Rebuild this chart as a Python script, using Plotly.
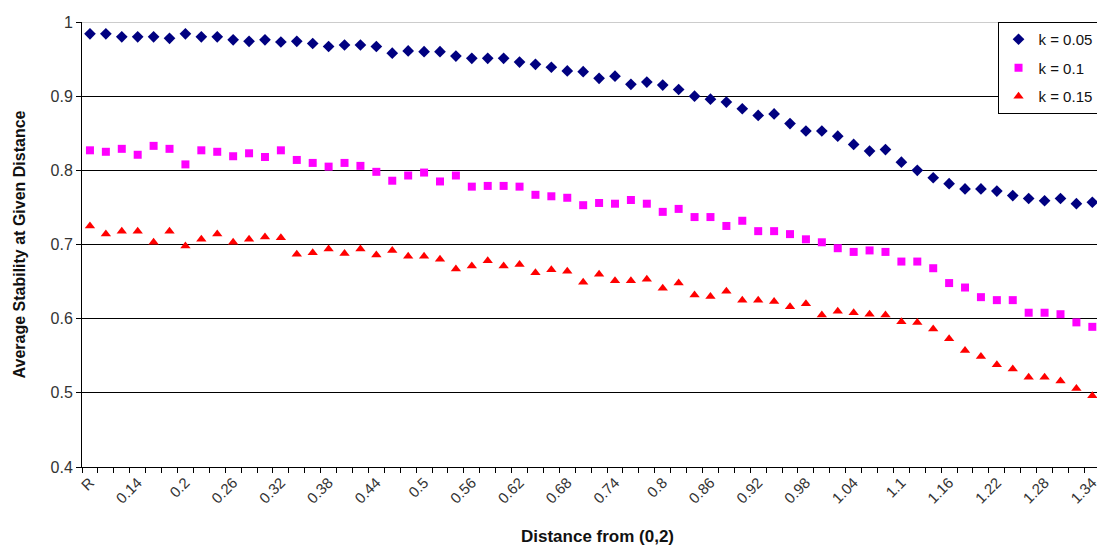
import plotly.graph_objects as go

distances = ["R", "0.1", "0.12", "0.14", "0.16", "0.18", "0.2", "0.22", "0.24", "0.26",
             "0.28", "0.3", "0.32", "0.34", "0.36", "0.38", "0.4", "0.42", "0.44", "0.46",
             "0.48", "0.5", "0.52", "0.54", "0.56", "0.58", "0.6", "0.62", "0.64", "0.66",
             "0.68", "0.7", "0.72", "0.74", "0.76", "0.78", "0.8", "0.82", "0.84", "0.86",
             "0.88", "0.9", "0.92", "0.94", "0.96", "0.98", "1", "1.02", "1.04", "1.06",
             "1.08", "1.1", "1.12", "1.14", "1.16", "1.18", "1.2", "1.22", "1.24", "1.26",
             "1.28", "1.3", "1.32", "1.34", "1.36"]

k005 = [0.984, 0.984, 0.980, 0.980, 0.980, 0.978, 0.984, 0.980, 0.980, 0.976,
        0.974, 0.976, 0.973, 0.974, 0.971, 0.967, 0.969, 0.969, 0.967, 0.958,
        0.961, 0.960, 0.960, 0.954, 0.951, 0.951, 0.951, 0.946, 0.943, 0.939,
        0.934, 0.933, 0.924, 0.927, 0.916, 0.919, 0.915, 0.909, 0.900, 0.896,
        0.892, 0.883, 0.874, 0.876, 0.863, 0.853, 0.853, 0.846, 0.835, 0.826,
        0.828, 0.811, 0.800, 0.790, 0.782, 0.775, 0.775, 0.772, 0.766, 0.762,
        0.759, 0.762, 0.755, 0.757, 0.752]

k01 = [0.827, 0.825, 0.829, 0.821, 0.833, 0.829, 0.808, 0.827, 0.825, 0.819,
       0.823, 0.818, 0.827, 0.814, 0.810, 0.805, 0.810, 0.806, 0.798, 0.786,
       0.793, 0.797, 0.785, 0.793, 0.778, 0.779, 0.779, 0.778, 0.767, 0.765,
       0.763, 0.753, 0.756, 0.755, 0.760, 0.755, 0.744, 0.748, 0.737, 0.737,
       0.725, 0.732, 0.718, 0.718, 0.714, 0.707, 0.703, 0.695, 0.690, 0.692,
       0.690, 0.677, 0.677, 0.668, 0.648, 0.642, 0.629, 0.625, 0.625, 0.608,
       0.608, 0.606, 0.595, 0.589, 0.591]

k015 = [0.725, 0.714, 0.718, 0.718, 0.703, 0.718, 0.698, 0.707, 0.714, 0.703,
        0.707, 0.710, 0.709, 0.687, 0.689, 0.694, 0.688, 0.694, 0.686, 0.692,
        0.684, 0.684, 0.680, 0.667, 0.671, 0.678, 0.671, 0.673, 0.662, 0.666,
        0.664, 0.649, 0.660, 0.651, 0.651, 0.653, 0.641, 0.648, 0.632, 0.630,
        0.637, 0.625, 0.625, 0.623, 0.616, 0.620, 0.605, 0.610, 0.608, 0.606,
        0.605, 0.596, 0.595, 0.586, 0.573, 0.557, 0.549, 0.538, 0.532, 0.521,
        0.521, 0.516, 0.506, 0.496, 0.496]

series_names = ["k = 0.05", "k = 0.1", "k = 0.15"]
y_ticks = [0.4, 0.5, 0.6, 0.7, 0.8, 0.9, 1.0]
y_ticktext = ["0.4", "0.5", "0.6", "0.7", "0.8", "0.9", "1"]

FONT = "Arial, Liberation Sans, sans-serif"

fig = go.Figure()
styles = [
    dict(symbol="diamond", color="#000080", size=9),
    dict(symbol="square", color="#FF00FF", size=8),
    dict(symbol="triangle-up", color="#FF0000", size=9),
]
for name, vals, st in zip(series_names, [k005, k01, k015], styles):
    fig.add_trace(go.Scatter(
        x=distances, y=vals, mode="markers", name=name, legendgroup=name,
        marker=dict(symbol=st["symbol"], color=st["color"], size=st["size"],
                    line=dict(width=0)),
    ))

ticktext_x = [d if i % 3 == 0 else "" for i, d in enumerate(distances)]

fig.update_layout(
    width=1105, height=548,
    margin=dict(l=74, r=0, t=14, b=89, autoexpand=False),
    paper_bgcolor="white", plot_bgcolor="white",
    font=dict(family=FONT, size=15, color="#222"),
    showlegend=True,
    legend=dict(
        x=0.888, y=1.0, xanchor="left", yanchor="top",
        bordercolor="black", borderwidth=1, bgcolor="white",
        font=dict(family=FONT, size=15, color="#111"),
        traceorder="grouped", tracegroupgap=6,
        itemwidth=30,
    ),
    xaxis=dict(
        type="category", categoryorder="array", categoryarray=distances,
        range=[-0.5, 64.3],
        tickmode="array", tickvals=distances, ticktext=ticktext_x,
        tickson="boundaries", ticks="outside", ticklen=5, tickcolor="black",
        tickangle=-45, tickfont=dict(family=FONT, size=15, color="#333"),
        showgrid=False, showline=True, linecolor="black", linewidth=1,
        zeroline=False,
        title=dict(text="<b>Distance from (0,2)</b>", font=dict(family=FONT, size=17, color="#111"),
                   standoff=24),
    ),
    yaxis=dict(
        range=[0.4, 1.0], tickmode="array", tickvals=y_ticks, ticktext=y_ticktext,
        ticks="outside", ticklen=5, tickcolor="black",
        tickfont=dict(family=FONT, size=16, color="#333"),
        showgrid=True, gridcolor="black", gridwidth=1,
        showline=True, linecolor="black", linewidth=1, zeroline=False,
        title=dict(text="<b>Average Stability at Given Distance</b>",
                   font=dict(family=FONT, size=16, color="#111"), standoff=20),
    ),
    shapes=[dict(type="line", xref="paper", yref="y", x0=0, x1=1, y0=1.0, y1=1.0,
                 line=dict(color="#999999", width=1), layer="above")],
)

fig.write_html("out.html")
